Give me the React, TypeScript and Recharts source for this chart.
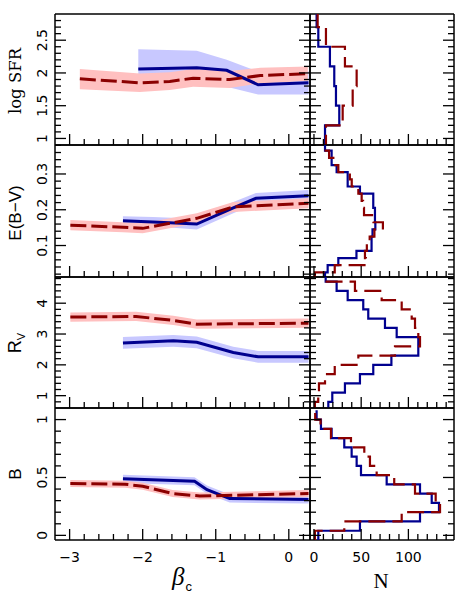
import React from 'react';
import { ComposedChart, Line, Area, Scatter, XAxis, YAxis } from 'recharts';

const W = 463;
const H = 595;
const COL_X = [55, 310, 454];
const ROW_Y = [14, 145, 277, 408, 540];
const AX = 1; // thickness reserved by each axis

const BLUE = '#00008f';
const RED = '#8b0000';
const BLUE_BAND = '#c8c8ff';
const RED_BAND = '#ffc0c0';

// ---------- x axes ----------
const betaDomain = [-3.2, 0.29];
const betaMajor = [-3, -2, -1, 0];
const betaLabels = ['−3', '−2', '−1', '0'];
const betaMinorStep = 0.2;

const nDomain = [-4.2, 148.3];
const nMajor = [0, 50, 100];
const nLabels = ['0', '50', '100'];
const nMinorStep = 10;

// ---------- row 1 : log SFR ----------
const sfrDomain = [0.9, 2.9];
const sfrMajor = [1, 1.5, 2, 2.5];
const sfrLabels = ['1', '1.5', '2', '2.5'];
const sfrMinorStep = 0.1;
const sfrRedX = [-2.86, -2.04, -1.63, -1.31, -0.81, -0.39, 0.26];
const sfrRedY = [1.91, 1.85, 1.87, 1.92, 1.9, 1.96, 1.99];
const sfrRedLo = [1.75, 1.71, 1.74, 1.79, 1.77, 1.84, 1.88];
const sfrRedHi = [2.06, 1.99, 2.01, 2.06, 2.03, 2.08, 2.1];
const sfrBlueX = [-2.06, -1.26, -0.85, -0.42, 0.27];
const sfrBlueY = [2.06, 2.08, 2.04, 1.82, 1.85];
const sfrBlueLo = [1.8, 1.8, 1.79, 1.67, 1.67];
const sfrBlueHi = [2.36, 2.34, 2.2, 2.02, 2.03];
const sfrBinLo = [0.6, 0.9, 1.2, 1.5, 1.8, 2.1, 2.4, 2.7];
const sfrBinW = 0.3;
const sfrBlueN = [11.7, 11.7, 26.8, 23.3, 21.5, 16.9, 4.6, 2.8];
const sfrRedN = [1, 12.7, 30.4, 41, 45.2, 32.8, 12.7, 3.9];

// ---------- row 2 : E(B-V) ----------
const ebvDomain = [0.012, 0.381];
const ebvMajor = [0.1, 0.2, 0.3];
const ebvLabels = ['0.1', '0.2', '0.3'];
const ebvMinorStep = 0.02;
const ebvRedX = [-2.99, -2.27, -2.0, -1.26, -0.76, 0.27];
const ebvRedY = [0.157, 0.151, 0.148, 0.176, 0.208, 0.218];
const ebvRedLo = [0.143, 0.137, 0.134, 0.162, 0.194, 0.204];
const ebvRedHi = [0.171, 0.165, 0.162, 0.19, 0.222, 0.232];
const ebvBlueX = [-2.27, -1.86, -1.26, -0.76, -0.45, 0.27];
const ebvBlueY = [0.169, 0.166, 0.16, 0.205, 0.232, 0.239];
const ebvBlueLo = [0.157, 0.154, 0.145, 0.19, 0.217, 0.224];
const ebvBlueHi = [0.182, 0.18, 0.175, 0.222, 0.247, 0.255];
const ebvBinLo = [0.005, 0.025, 0.045, 0.065, 0.085, 0.105, 0.125, 0.145, 0.165, 0.185, 0.205, 0.225, 0.245, 0.265, 0.285, 0.305, 0.325, 0.345, 0.365];
const ebvBinW = 0.02;
const ebvBlueN = [11.7, 14.5, 25.8, 45, 61, 61, 62, 65, 64.6, 64.6, 62.8, 62.8, 48.7, 35.7, 35.7, 24, 18.7, 18.7, 11.7];
const ebvRedN = [1, 22, 55, 54, 56, 59, 64, 73, 63, 53, 52, 50.5, 47, 40, 38, 25.8, 20.5, 16, 11];

// ---------- row 3 : R_V ----------
const rvDomain = [0.6, 4.85];
const rvMajor = [1, 2, 3, 4];
const rvLabels = ['1', '2', '3', '4'];
const rvMinorStep = 0.2;
const rvRedX = [-2.99, -2.09, -1.58, -1.26, -0.81, 0.27];
const rvRedY = [3.55, 3.57, 3.44, 3.32, 3.33, 3.35];
const rvRedLo = [3.4, 3.42, 3.29, 3.17, 3.18, 3.2];
const rvRedHi = [3.7, 3.72, 3.59, 3.47, 3.48, 3.5];
const rvBlueX = [-2.27, -1.58, -1.26, -0.76, -0.42, 0.27];
const rvBlueY = [2.71, 2.78, 2.73, 2.4, 2.26, 2.26];
const rvBlueLo = [2.52, 2.59, 2.54, 2.21, 2.07, 2.07];
const rvBlueHi = [2.9, 2.97, 2.92, 2.59, 2.45, 2.45];
const rvBinLo = [0.5, 0.8, 1.1, 1.4, 1.7, 2.0, 2.3, 2.6, 2.9, 3.2, 3.5, 3.8, 4.1, 4.4, 4.7];
const rvBinW = 0.3;
const rvBlueN = [15.2, 19.4, 32.8, 48.7, 62.8, 82, 110.5, 110.5, 87.6, 75.2, 57.5, 52.2, 35.7, 24, 12.4];
const rvRedN = [1, 4.5, 5.3, 11.7, 22, 47, 85.8, 112.3, 110.5, 107, 103.5, 92.9, 71.7, 43.4, 12];

// ---------- row 4 : B ----------
const bDomain = [-0.04, 1.1];
const bMajor = [0, 0.5, 1];
const bLabels = ['0', '0.5', '1'];
const bMinorStep = 0.1;
const bRedX = [-2.99, -2.24, -2.0, -1.59, -1.22, 0.27];
const bRedY = [0.448, 0.442, 0.424, 0.361, 0.34, 0.361];
const bRedLo = [0.418, 0.412, 0.394, 0.331, 0.31, 0.331];
const bRedHi = [0.478, 0.472, 0.454, 0.391, 0.37, 0.391];
const bBlueX = [-2.27, -1.29, -1.12, -0.81, 0.27];
const bBlueY = [0.488, 0.468, 0.395, 0.318, 0.31];
const bBlueLo = [0.453, 0.433, 0.36, 0.283, 0.275];
const bBlueHi = [0.523, 0.503, 0.43, 0.353, 0.345];
const bBinLo = [-0.04, 0.04, 0.12, 0.2, 0.28, 0.36, 0.44, 0.52, 0.6, 0.68, 0.76, 0.84, 0.92, 1.0];
const bBinW = 0.08;
const bBlueN = [4.6, 48.7, 112.3, 132.4, 124.7, 112.3, 77, 49.8, 45.2, 39.9, 32.1, 18.7, 7.4, 2.8];
const bRedN = [1, 32.1, 92.9, 133.5, 128.9, 107, 85, 66.4, 59.3, 53.3, 39.2, 18, 7, 1.3];

// ---------- helpers ----------
type Pt = { x: number; y: number; band: [number, number] };
function series(xs: number[], ys: number[], lo: number[], hi: number[]): Pt[] {
  return xs.map((x, i) => ({ x, y: ys[i], band: [lo[i], hi[i]] as [number, number] }));
}
function steps(lo: number[], w: number, counts: number[]) {
  const pts: { n: number; v: number }[] = [];
  lo.forEach((l, i) => {
    pts.push({ n: counts[i], v: l });
    pts.push({ n: counts[i], v: l + w });
  });
  return pts;
}
function tickList(domain: number[], step: number) {
  const out: number[] = [];
  const s = Math.ceil((domain[0] + 1e-6) / step);
  const e = Math.floor((domain[1] - 1e-6) / step);
  for (let k = s; k <= e; k++) out.push(Math.round(k * step * 1e6) / 1e6);
  return out;
}

const TICK_FONT = '"DejaVu Sans", "Liberation Sans", sans-serif';
const MAJOR_LEN = 11;
const MINOR_LEN = 6;

function makeTick(side: string, majors: number[], labels: string[] | null) {
  return (props: any) => {
    const { x, y, payload } = props;
    const v = payload.value;
    const mi = majors.findIndex((m) => Math.abs(m - v) < 1e-6);
    const len = mi >= 0 ? MAJOR_LEN : MINOR_LEN;
    let x2 = x;
    let y2 = y;
    if (side === 'bottom') y2 = y - len;
    if (side === 'top') y2 = y + len;
    if (side === 'left') x2 = x + len;
    if (side === 'right') x2 = x - len;
    let label = null;
    if (labels && mi >= 0) {
      if (side === 'bottom') {
        label = (
          <text x={x} y={y + 22} textAnchor="middle" fontFamily={TICK_FONT} fontSize={14} fill="#000">
            {labels[mi]}
          </text>
        );
      } else if (side === 'left') {
        const bx = x - 8;
        label = (
          <text x={bx} y={y} transform={`rotate(-90 ${bx} ${y})`} textAnchor="middle" fontFamily={TICK_FONT} fontSize={14} fill="#000">
            {labels[mi]}
          </text>
        );
      }
    }
    return (
      <g>
        <line x1={x} y1={y} x2={x2} y2={y2} stroke="#000" strokeWidth={1.3} />
        {label}
      </g>
    );
  };
}

const axisLine = { stroke: '#000', strokeWidth: 1.5 };

type RowDef = {
  domain: number[];
  major: number[];
  labels: string[];
  minorStep: number;
  red: Pt[];
  blue: Pt[];
  redHist: { n: number; v: number }[];
  blueHist: { n: number; v: number }[];
};

const SANS = '"Liberation Sans", Arial, sans-serif';
const SERIF = '"DejaVu Serif", "Liberation Serif", serif';

function yTitle(content: React.ReactNode, cy: number, family: string, size: number) {
  return () => (
    <text x={21} y={cy} transform={`rotate(-90 21 ${cy})`} textAnchor="middle" fontFamily={family} fontSize={size} fill="#000">
      {content}
    </text>
  );
}

const rows: RowDef[] = [
  {
    domain: sfrDomain, major: sfrMajor, labels: sfrLabels, minorStep: sfrMinorStep,
    red: series(sfrRedX, sfrRedY, sfrRedLo, sfrRedHi),
    blue: series(sfrBlueX, sfrBlueY, sfrBlueLo, sfrBlueHi),
    redHist: steps(sfrBinLo, sfrBinW, sfrRedN),
    blueHist: steps(sfrBinLo, sfrBinW, sfrBlueN),
  },
  {
    domain: ebvDomain, major: ebvMajor, labels: ebvLabels, minorStep: ebvMinorStep,
    red: series(ebvRedX, ebvRedY, ebvRedLo, ebvRedHi),
    blue: series(ebvBlueX, ebvBlueY, ebvBlueLo, ebvBlueHi),
    redHist: steps(ebvBinLo, ebvBinW, ebvRedN),
    blueHist: steps(ebvBinLo, ebvBinW, ebvBlueN),
  },
  {
    domain: rvDomain, major: rvMajor, labels: rvLabels, minorStep: rvMinorStep,
    red: series(rvRedX, rvRedY, rvRedLo, rvRedHi),
    blue: series(rvBlueX, rvBlueY, rvBlueLo, rvBlueHi),
    redHist: steps(rvBinLo, rvBinW, rvRedN),
    blueHist: steps(rvBinLo, rvBinW, rvBlueN),
  },
  {
    domain: bDomain, major: bMajor, labels: bLabels, minorStep: bMinorStep,
    red: series(bRedX, bRedY, bRedLo, bRedHi),
    blue: series(bBlueX, bBlueY, bBlueLo, bBlueHi),
    redHist: steps(bBinLo, bBinW, bRedN),
    blueHist: steps(bBinLo, bBinW, bBlueN),
  },
];

const yTitles = [
  yTitle('log SFR', 81, SERIF, 16.5),
  yTitle('E(B−V)', 213, SANS, 17),
  yTitle(
    <>
      R<tspan fontSize={11} dy={4}>V</tspan>
    </>,
    343,
    SANS,
    18
  ),
  yTitle('B', 474, SANS, 17),
];

const betaTitle = () => (
  <text x={172} y={585} fontFamily='"Liberation Serif", serif' fontStyle="italic" fontSize={25} fill="#000">
    β
    <tspan fontStyle="normal" fontFamily={SANS} fontSize={13} dx={1} dy={6}>
      c
    </tspan>
  </text>
);
const nTitle = () => (
  <text x={381} y={588} textAnchor="middle" fontFamily='"Liberation Serif", serif' fontSize={21} fill="#000">
    N
  </text>
);

const betaTicks = tickList(betaDomain, betaMinorStep);
const nTicks = tickList(nDomain, nMinorStep);

function margins(r: number, c: number) {
  return {
    top: ROW_Y[r] - AX,
    bottom: H - ROW_Y[r + 1] - AX,
    left: COL_X[c] - AX,
    right: W - COL_X[c + 1] - AX,
  };
}

const axisCommon = {
  allowDataOverflow: true,
  interval: 0 as const,
  tickSize: 0,
  tickMargin: 0,
  tickLine: false,
  axisLine,
};

function LeftPanel({ r }: { r: number }) {
  const row = rows[r];
  const yTicks = tickList(row.domain, row.minorStep);
  const last = r === rows.length - 1;
  return (
    <div style={{ position: 'absolute', left: 0, top: 0 }}>
      <ComposedChart width={W} height={H} margin={margins(r, 0)}>
        <XAxis
          {...axisCommon} xAxisId="b" dataKey="x" type="number" domain={betaDomain}
          ticks={betaTicks} height={AX} tick={makeTick('bottom', betaMajor, last ? betaLabels : null)}
          label={last ? { content: betaTitle } : undefined}
        />
        <XAxis
          {...axisCommon} xAxisId="t" orientation="top" type="number" domain={betaDomain}
          ticks={betaTicks} height={AX} tick={makeTick('top', betaMajor, null)}
        />
        <YAxis
          {...axisCommon} yAxisId="l" type="number" domain={row.domain}
          ticks={yTicks} width={AX} tick={makeTick('left', row.major, row.labels)}
          label={{ content: yTitles[r] }}
        />
        <YAxis
          {...axisCommon} yAxisId="r" orientation="right" type="number" domain={row.domain}
          ticks={yTicks} width={AX} tick={makeTick('right', row.major, null)}
        />
        <Area
          xAxisId="b" yAxisId="l" data={row.blue} dataKey="band" type="linear"
          stroke="none" fill={BLUE_BAND} fillOpacity={1} dot={false} activeDot={false}
          isAnimationActive={false}
        />
        <Line
          xAxisId="b" yAxisId="l" data={row.blue} dataKey="y" type="linear"
          stroke={BLUE} strokeWidth={3} dot={false} activeDot={false} isAnimationActive={false}
        />
        <Area
          xAxisId="b" yAxisId="l" data={row.red} dataKey="band" type="linear"
          stroke="none" fill={RED_BAND} fillOpacity={1} dot={false} activeDot={false}
          isAnimationActive={false}
        />
        <Line
          xAxisId="b" yAxisId="l" data={row.red} dataKey="y" type="linear"
          stroke={RED} strokeWidth={3} strokeDasharray="16 5" dot={false} activeDot={false}
          isAnimationActive={false}
        />
      </ComposedChart>
    </div>
  );
}

const noShape = () => <g />;

function RightPanel({ r }: { r: number }) {
  const row = rows[r];
  const yTicks = tickList(row.domain, row.minorStep);
  const last = r === rows.length - 1;
  return (
    <div style={{ position: 'absolute', left: 0, top: 0 }}>
      <ComposedChart width={W} height={H} margin={margins(r, 1)}>
        <XAxis
          {...axisCommon} xAxisId="b" dataKey="n" type="number" domain={nDomain}
          ticks={nTicks} height={AX} tick={makeTick('bottom', nMajor, last ? nLabels : null)}
          label={last ? { content: nTitle } : undefined}
        />
        <XAxis
          {...axisCommon} xAxisId="t" orientation="top" type="number" domain={nDomain}
          ticks={nTicks} height={AX} tick={makeTick('top', nMajor, null)}
        />
        <YAxis
          {...axisCommon} yAxisId="l" dataKey="v" type="number" domain={row.domain}
          ticks={yTicks} width={AX} tick={makeTick('left', row.major, null)}
        />
        <YAxis
          {...axisCommon} yAxisId="r" orientation="right" type="number" domain={row.domain}
          ticks={yTicks} width={AX} tick={makeTick('right', row.major, null)}
        />
        <Scatter
          xAxisId="b" yAxisId="l" data={row.blueHist} fill={BLUE}
          line={{ stroke: BLUE, strokeWidth: 2.2 }} shape={noShape} isAnimationActive={false}
        />
        <Scatter
          xAxisId="b" yAxisId="l" data={row.redHist} fill={RED}
          line={{ stroke: RED, strokeWidth: 2.2, strokeDasharray: '17 7' }} shape={noShape}
          isAnimationActive={false}
        />
      </ComposedChart>
    </div>
  );
}

export default function App() {
  return (
    <div style={{ position: 'absolute', left: 0, top: 0, width: W, height: H, background: '#fff' }}>
      {rows.map((_, r) => (
        <LeftPanel key={`l${r}`} r={r} />
      ))}
      {rows.map((_, r) => (
        <RightPanel key={`r${r}`} r={r} />
      ))}
    </div>
  );
}
